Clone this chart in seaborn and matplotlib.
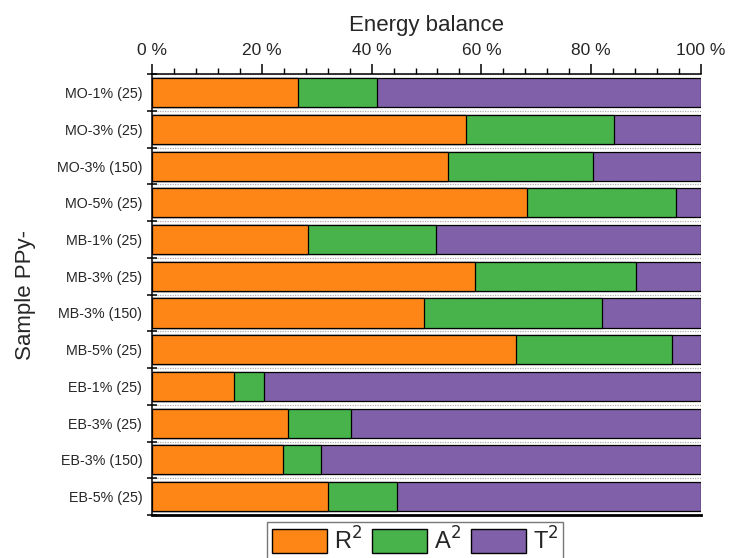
import matplotlib
matplotlib.use("Agg")
import matplotlib.pyplot as plt
import seaborn as sns
import pandas as pd
import numpy as np
from matplotlib.ticker import MultipleLocator, FixedLocator, FuncFormatter
from matplotlib.patches import Patch

samples = ["MO-1% (25)", "MO-3% (25)", "MO-3% (150)", "MO-5% (25)",
           "MB-1% (25)", "MB-3% (25)", "MB-3% (150)", "MB-5% (25)",
           "EB-1% (25)", "EB-3% (25)", "EB-3% (150)", "EB-5% (25)"]
r2 = [26.6, 57.2, 53.9, 68.3, 28.4, 58.8, 49.5, 66.3, 14.9, 24.8, 23.9, 32.1]
a2 = [14.4, 27.0, 26.4, 27.1, 23.3, 29.4, 32.5, 28.4, 5.5, 11.4, 6.9, 12.5]
t2 = [59.0, 15.8, 19.7, 4.6, 48.3, 11.8, 18.0, 5.3, 79.6, 63.8, 69.2, 55.4]

c_r, c_a, c_t = "#fd8617", "#48b34a", "#8060a9"

df = pd.DataFrame({"sample": samples, "R2": r2, "A2": a2, "T2": t2})
df["RA"] = df["R2"] + df["A2"]
df["RAT"] = df["RA"] + df["T2"]

sns.set_theme(style="white")
plt.rcParams["font.family"] = ["Liberation Sans", "DejaVu Sans"]

fig = plt.figure(figsize=(7.29, 5.58), dpi=100)
ax = fig.add_axes([0.2085, 0.077, 0.7531, 0.790])

# stacked horizontal bars: draw cumulative totals back to front
for col, color in [("RAT", c_t), ("RA", c_a), ("R2", c_r)]:
    sns.barplot(data=df, x=col, y="sample", color=color, orient="h",
                width=0.79, edgecolor="black", linewidth=0.9,
                saturation=1, ax=ax)

ax.set_xlim(0, 100)
ax.set_ylim(len(samples) - 0.5, -0.5)

# percentage axis on top
ax.xaxis.tick_top()
ax.xaxis.set_label_position("top")
ax.xaxis.set_major_locator(MultipleLocator(20))
ax.xaxis.set_minor_locator(MultipleLocator(4))
ax.xaxis.set_major_formatter(FuncFormatter(lambda v, p: f"{v:.0f} %"))
ax.tick_params(axis="x", which="major", direction="out", length=7, width=1.1,
               labelsize=12.5, pad=5, color="black", top=True, bottom=False)
ax.tick_params(axis="x", which="minor", direction="out", length=4, width=1.0,
               color="black", top=True, bottom=False)
ax.set_xlabel("Energy balance", fontsize=16, labelpad=8)

# category separators
ax.yaxis.set_minor_locator(FixedLocator(np.arange(-0.5, len(samples), 1.0)))
ax.tick_params(axis="y", which="major", length=0, labelsize=10.3, pad=7)
ax.tick_params(axis="y", which="minor", direction="inout", length=7, width=1.1,
               color="black", left=True)
ax.grid(False)
ax.yaxis.grid(True, which="minor", color="#b0b0b0", linestyle=(0, (1, 1)), linewidth=0.9)
ax.set_axisbelow(True)
ax.set_ylabel("Sample PPy-", fontsize=16, labelpad=15)

for side in ["top", "left", "bottom", "right"]:
    ax.spines[side].set_visible(True)
    ax.spines[side].set_color("black")
    ax.spines[side].set_linewidth(1.1)
ax.spines["bottom"].set_linewidth(2.0)
ax.spines["right"].set_visible(False)

handles = [Patch(facecolor=c_r, edgecolor="black", linewidth=1.0),
           Patch(facecolor=c_a, edgecolor="black", linewidth=1.0),
           Patch(facecolor=c_t, edgecolor="black", linewidth=1.0)]
leg = fig.legend(handles, ["R$^2$", "A$^2$", "T$^2$"], loc="upper center",
                 bbox_to_anchor=(0.5695, 0.064), ncol=3, fontsize=17,
                 frameon=True, fancybox=False, handlelength=2.35,
                 handleheight=1.2, handletextpad=0.3, columnspacing=0.4,
                 borderpad=0.2, borderaxespad=0)
leg.get_frame().set_edgecolor("#555555")
leg.get_frame().set_linewidth(1.0)

fig.savefig("out.png", dpi=100)
